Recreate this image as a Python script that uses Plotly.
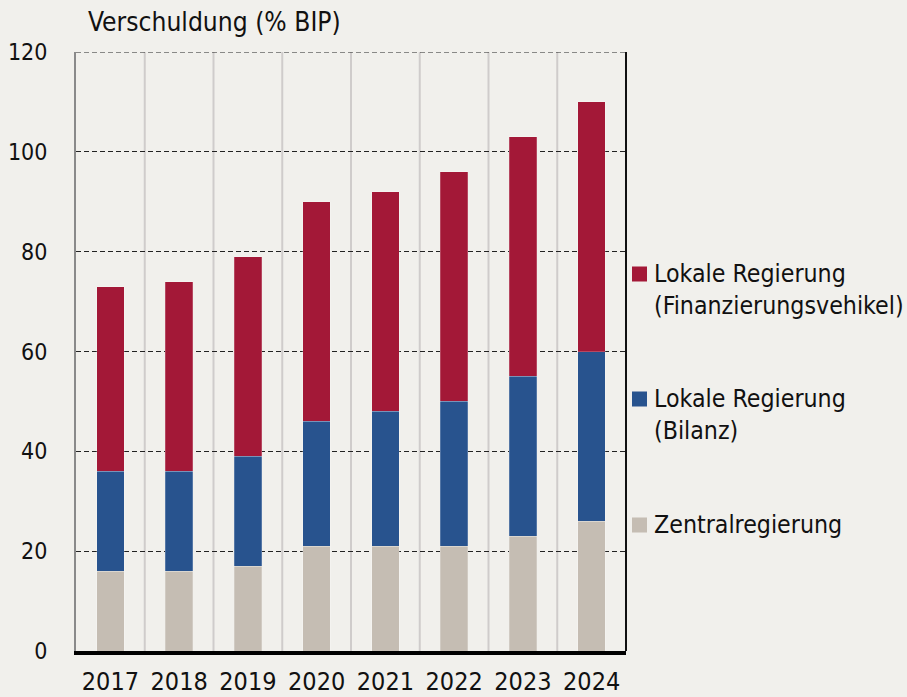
import plotly.graph_objects as go

years = ["2017", "2018", "2019", "2020", "2021", "2022", "2023", "2024"]
zentral = [16, 16, 17, 21, 21, 21, 23, 26]
lokal_bilanz = [20, 20, 22, 25, 27, 29, 32, 34]
lokal_fv = [37, 38, 40, 44, 44, 46, 48, 50]
y_ticks = [0, 20, 40, 60, 80, 100, 120]

names = ["Zentralregierung", "Lokale Regierung<br>(Bilanz)", "Lokale Regierung<br>(Finanzierungsvehikel)"]
colors = ["#c5bdb3", "#28538e", "#a31837"]
series = [zentral, lokal_bilanz, lokal_fv]

FONT = "DejaVu Sans Condensed, DejaVu Sans, sans-serif"
BG = "#f1f0ec"

W, H = 907, 697
ML, MR, MT, MB = 76, 281, 52, 46
PW, PH = W - ML - MR, H - MT - MB


def px_x(x):
    return (x - ML) / PW


def px_y(y):
    return (H - MB - y) / PH


fig = go.Figure()
for name, col, vals in zip(names, colors, series):
    fig.add_trace(go.Bar(
        x=years, y=vals, name=name, showlegend=False,
        marker=dict(color=col, line=dict(width=0.6, color="rgba(255,255,255,0.35)")),
    ))

shapes = []
for i in range(1, len(years)):
    shapes.append(dict(type="line", xref="x", yref="paper", x0=i - 0.5, x1=i - 0.5, y0=0, y1=1,
                       line=dict(color="#cfcccb", width=2), layer="below"))
# top dashed gridline
shapes.append(dict(type="line", xref="paper", yref="y", x0=0, x1=1, y0=y_ticks[-1], y1=y_ticks[-1],
                   line=dict(color="#222", width=1, dash="5px,3px")))
# right border
shapes.append(dict(type="line", xref="paper", yref="paper", x0=1, x1=1, y0=0, y1=1,
                   line=dict(color="#111", width=2)))

annotations = [dict(text="Verschuldung (% BIP)", xref="paper", yref="paper", x=px_x(86), y=1.0,
                    xanchor="left", yanchor="middle", yshift=30, showarrow=False,
                    font=dict(family=FONT, size=26.2, color="#111"))]

# manual legend (top to bottom: reversed stacking order)
legend_centers = [525, 399, 274]
for name, col, yc in zip(names, colors, legend_centers):
    shapes.append(dict(type="rect", xref="paper", yref="paper",
                       x0=px_x(632), x1=px_x(647), y0=px_y(yc - 7.5), y1=px_y(yc + 7.5),
                       fillcolor=col, line=dict(width=0)))
    annotations.append(dict(text=name, xref="paper", yref="paper", x=px_x(652), y=px_y(yc),
                            xanchor="left", yanchor="top", yshift=17, align="left",
                            showarrow=False, font=dict(family=FONT, size=24.7, color="#111")))

fig.update_layout(
    barmode="stack",
    bargap=0.6,
    width=W, height=H,
    paper_bgcolor=BG, plot_bgcolor=BG,
    margin=dict(l=ML, r=MR, t=MT, b=MB),
    font=dict(family=FONT, size=25, color="#111"),
    shapes=shapes,
    annotations=annotations,
    showlegend=False,
)
fig.update_xaxes(showgrid=False, showline=True, linecolor="#000", linewidth=4,
                 ticks="", ticklabelstandoff=5, automargin=False,
                 tickfont=dict(size=25), range=[-0.5, len(years) - 0.5])
fig.update_yaxes(range=[0, 120], tickvals=y_ticks, showgrid=True, gridcolor="#222",
                 griddash="5px,3px", gridwidth=1, zeroline=False, showline=True, linecolor="#8a8a8a",
                 linewidth=2, ticks="", ticklabelstandoff=22, automargin=False,
                 tickfont=dict(size=23))

fig.write_html("out.html", config={"displayModeBar": False},
               post_script="document.body.style.margin='0';")
